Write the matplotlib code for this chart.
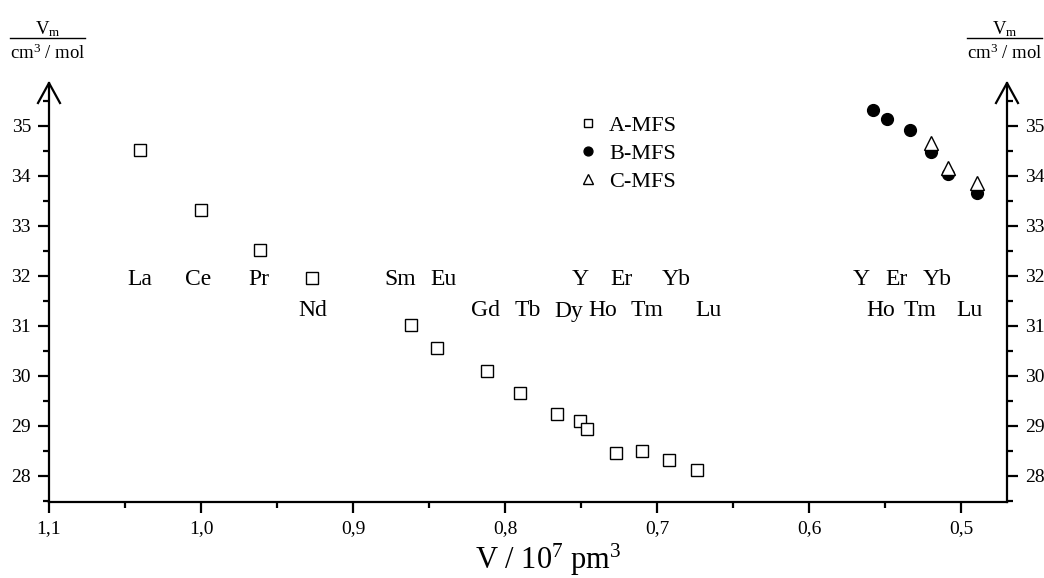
import matplotlib
matplotlib.use("Agg")
import matplotlib.pyplot as plt
from matplotlib.ticker import MultipleLocator, FuncFormatter
from matplotlib.lines import Line2D

plt.rcParams['font.family'] = ['Liberation Serif', 'DejaVu Serif']
plt.rcParams['mathtext.fontset'] = 'custom'
plt.rcParams['mathtext.rm'] = 'Liberation Serif'
plt.rcParams['mathtext.it'] = 'Liberation Serif:italic'

# ---- data ----
A_elements = ["La", "Ce", "Pr", "Nd", "Sm", "Eu", "Gd", "Tb", "Dy", "Y", "Ho", "Er", "Tm", "Yb", "Lu"]
A_volume = [1.040, 1.000, 0.961, 0.927, 0.862, 0.845, 0.812, 0.790, 0.766, 0.751, 0.746, 0.727, 0.710, 0.692, 0.674]
A_molvol = [34.52, 33.32, 32.53, 31.96, 31.03, 30.57, 30.10, 29.67, 29.25, 29.10, 28.94, 28.46, 28.50, 28.33, 28.13]

B_elements = ["Y", "Ho", "Er", "Tm", "Yb", "Lu"]
B_volume = [0.558, 0.549, 0.534, 0.520, 0.509, 0.490]
B_molvol = [35.33, 35.13, 34.93, 34.48, 34.05, 33.67]

C_elements = ["Tm", "Yb", "Lu"]
C_volume = [0.520, 0.509, 0.490]
C_molvol = [34.67, 34.16, 33.87]

series_names = ["A-MFS", "B-MFS", "C-MFS"]
x_ticks = [1.1, 1.0, 0.9, 0.8, 0.7, 0.6, 0.5]
y_ticks = [28, 29, 30, 31, 32, 33, 34, 35]

# element label annotations (text, x, y)
element_labels = [
    ("La", 1.0406, 31.98), ("Ce", 1.0018, 31.98), ("Pr", 0.9623, 31.98), ("Nd", 0.9265, 31.35),
    ("Sm", 0.869, 31.98), ("Eu", 0.8406, 31.98), ("Gd", 0.8132, 31.35), ("Tb", 0.785, 31.35),
    ("Dy", 0.758, 31.35), ("Y", 0.7507, 31.98), ("Ho", 0.736, 31.35), ("Er", 0.7232, 31.98),
    ("Tm", 0.7068, 31.35), ("Yb", 0.6875, 31.98), ("Lu", 0.666, 31.35),
    ("Y", 0.5656, 31.98), ("Er", 0.5428, 31.98), ("Yb", 0.516, 31.98),
    ("Ho", 0.5533, 31.35), ("Tm", 0.527, 31.35), ("Lu", 0.4945, 31.35),
]

W, H = 1044, 578
fig = plt.figure(figsize=(W / 100, H / 100), dpi=100)
ax = fig.add_axes([49 / W, 76 / H, 958 / W, 419 / H])

ax.plot(A_volume, A_molvol, linestyle='none', marker='s', markersize=8,
        markerfacecolor='white', markeredgecolor='black', markeredgewidth=1.0,
        label=series_names[0], clip_on=False)
ax.plot(B_volume, B_molvol, linestyle='none', marker='o', markersize=8.5,
        markerfacecolor='black', markeredgecolor='black',
        label=series_names[1], clip_on=False)
ax.plot(C_volume, C_molvol, linestyle='none', marker='^', markersize=9.5,
        markerfacecolor='white', markeredgecolor='black', markeredgewidth=1.0,
        label=series_names[2], clip_on=False)

for txt, x, y in element_labels:
    ax.text(x, y, txt, ha='center', va='center_baseline', fontsize=17)

ax.set_xlim(1.1, 0.47)
ax.set_ylim(27.48, 35.86)

ax.set_xticks(x_ticks)
ax.xaxis.set_minor_locator(MultipleLocator(0.05))
ax.xaxis.set_major_formatter(FuncFormatter(lambda v, p: f"{v:.1f}".replace('.', ',')))
ax.set_yticks(y_ticks)
ax.yaxis.set_minor_locator(MultipleLocator(0.5))

ax.spines['top'].set_visible(False)
for s in ['left', 'right', 'bottom']:
    ax.spines[s].set_linewidth(1.6)

ax.tick_params(axis='both', which='major', direction='out', length=8, width=1.6, labelsize=14)
ax.tick_params(axis='both', which='minor', direction='out', length=4.5, width=1.6)
ax.tick_params(axis='y', which='both', left=True, right=True, labelleft=True, labelright=True)
ax.tick_params(axis='y', which='major', pad=5)
ax.tick_params(axis='x', which='major', pad=5)

# arrowheads on top of both y axes
dx, dy = 11 / 958, 20 / 419
for x0 in (0.0, 1.0):
    ax.add_line(Line2D([x0 - dx, x0, x0 + dx], [1 - dy, 1.0, 1 - dy], transform=ax.transAxes,
                       color='black', linewidth=1.6, clip_on=False))

fig.text(548 / W, 1 - 560 / H, r"V / 10$^7$ pm$^3$", ha='center', va='center', fontsize=22)

# fraction-style y labels
for xc in (47.5 / W, 1004.5 / W):
    fig.text(xc, 1 - 29 / H, r"V$_\mathrm{m}$", ha='center', va='center', fontsize=13.5)
    fig.text(xc, 1 - 53 / H, r"cm$^3$ / mol", ha='center', va='center', fontsize=13.5)
    fig.add_artist(Line2D([xc - 37.5 / W, xc + 37.5 / W], [1 - 38 / H, 1 - 38 / H],
                          transform=fig.transFigure, color='black', linewidth=1.0))

leg = ax.legend(loc='upper left', bbox_to_anchor=((577 - 49) / 958, 1 - (115 - 83) / 419),
                frameon=False, fontsize=16, markerscale=0.75, handlelength=1.0,
                handletextpad=0.45, labelspacing=0.35, borderpad=0.0, borderaxespad=0.0)

fig.savefig("out.png", dpi=100)
